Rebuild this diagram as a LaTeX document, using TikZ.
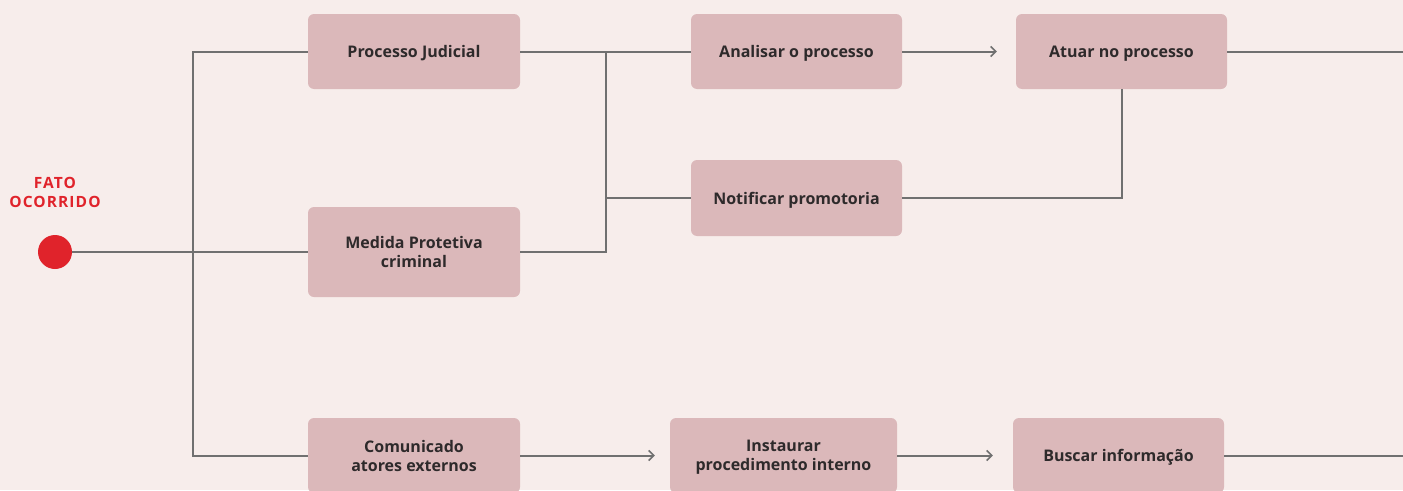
\documentclass[tikz,border=0pt]{standalone}
\usepackage{fontspec}
\setmainfont{Open Sans}
\usetikzlibrary{arrows.meta}
\definecolor{bg}{HTML}{F7EDEB}
\definecolor{boxc}{HTML}{DBB8BA}
\definecolor{ln}{HTML}{707070}
\definecolor{txt}{HTML}{2E2A2B}
\definecolor{redc}{HTML}{E0232B}
\begin{document}
\begin{tikzpicture}[x=1pt,y=-1pt,
  box/.style={rectangle,rounded corners=6pt,fill=boxc,draw=none,minimum width=212pt,minimum height=75pt,
    align=center,text=txt,font=\fontsize{16}{19}\selectfont\bfseries,inner sep=0pt,text depth=-2pt},
  conn/.style={draw=ln,line width=2pt},
  arr/.style={conn,-{Straight Barb[length=5pt,width=10pt,line width=1.6pt]}}]
\fill[bg] (0,0) rectangle (1403,490);
\useasboundingbox (0,0) rectangle (1403,490);
\begin{scope}
\clip (0,0) rectangle (1403,490);
\node[circle,fill=redc,minimum size=34pt,inner sep=0pt] (dot) at (55,252) {};
\node[text=redc,align=center,font=\fontsize{15.5}{19}\selectfont\bfseries\addfontfeatures{LetterSpace=7}] (lab) at (55,192.5) {FATO\\OCORRIDO};
\node[box] (proc) at (414,51.5) {Processo Judicial};
\node[box,minimum height=90pt] (med) at (414,252) {Medida Protetiva\\criminal};
\node[box] (com) at (414,455.5) {Comunicado\\atores externos};
\node[box,minimum width=211pt] (ana) at (796.5,51.5) {Analisar o processo};
\node[box,minimum width=211pt,minimum height=76pt] (not) at (796.5,198) {Notificar promotoria};
\node[box,minimum width=211pt] (atu) at (1121.5,51.5) {Atuar no processo};
\node[box,minimum width=227pt] (ins) at (783.5,455.5) {Instaurar\\procedimento interno};
\node[box,minimum width=211pt] (bus) at (1118.5,455.5) {Buscar informação};
\coordinate (tr) at (193,252);
\coordinate (j1) at (606,51.5);
\coordinate (e1) at (1403,51.5);
\coordinate (e2) at (1403,455.5);
\draw[conn] (dot.east) -- (med.west);
\draw[conn] (proc.west) -| (tr) |- (com.west);
\draw[conn] (proc.east) -- (ana.west);
\draw[conn] (med.east) -| (j1);
\draw[conn] (j1 |- not.west) -- (not.west);
\draw[arr] (ana.east) -- ([xshift=-19pt]atu.west);
\draw[conn] (atu.south) |- (not.east);
\draw[conn] (atu.east) -- (e1);
\draw[arr] (com.east) -- ([xshift=-15pt]ins.west);
\draw[arr] (ins.east) -- ([xshift=-20pt]bus.west);
\draw[conn] (bus.east) -- (e2);
\end{scope}
\end{tikzpicture}
\end{document}
